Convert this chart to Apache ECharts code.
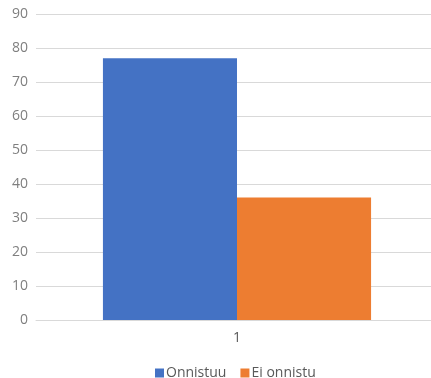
<!DOCTYPE html>
<html>
<head>
<meta charset="utf-8">
<script src="https://cdn.jsdelivr.net/npm/echarts@6/dist/echarts.min.js"></script>
<style>
  html, body { margin: 0; padding: 0; background: #fff; overflow: hidden; }
  /* plot area runs a little past the right edge of the window */
  #chart { width: 438px; height: 378px; }
</style>
</head>
<body>
<div id="chart"></div>
<script>
// Category and series values
const categories = ['1'];
const onnistuu = [77];
const eiOnnistu = [36];
const yTicks = { min: 0, max: 90, interval: 10 };

const chart = echarts.init(document.getElementById('chart'));
const font = "'Open Sans', 'Noto Sans', sans-serif";

chart.setOption({
  animation: false,
  textStyle: { fontFamily: font },
  grid: { left: 36, right: 0, top: 14, height: 306, containLabel: false },
  legend: {
    top: 361,
    left: 150,
    itemWidth: 9,
    itemHeight: 9,
    itemGap: 14,
    icon: 'rect',
    textStyle: { color: '#595959', fontSize: 14, fontFamily: font, padding: [0, 0, 0, -3] },
    data: ['Onnistuu', 'Ei onnistu']
  },
  xAxis: {
    type: 'category',
    data: categories,
    axisLine: { lineStyle: { color: '#d9d9d9' } },
    axisTick: { show: false },
    axisLabel: { color: '#595959', fontSize: 14, margin: 11 }
  },
  yAxis: {
    type: 'value',
    min: yTicks.min,
    max: yTicks.max,
    interval: yTicks.interval,
    axisLine: { show: false },
    axisTick: { show: false },
    splitLine: { lineStyle: { color: '#d9d9d9' } },
    axisLabel: { color: '#7f7f7f', fontSize: 14, margin: 8 }
  },
  series: [
    {
      name: 'Onnistuu',
      type: 'bar',
      data: onnistuu,
      barGap: '0%',
      barCategoryGap: '33.3%',
      itemStyle: { color: '#4472C4' }
    },
    {
      name: 'Ei onnistu',
      type: 'bar',
      data: eiOnnistu,
      itemStyle: { color: '#ED7D31' }
    }
  ]
});
</script>
</body>
</html>
